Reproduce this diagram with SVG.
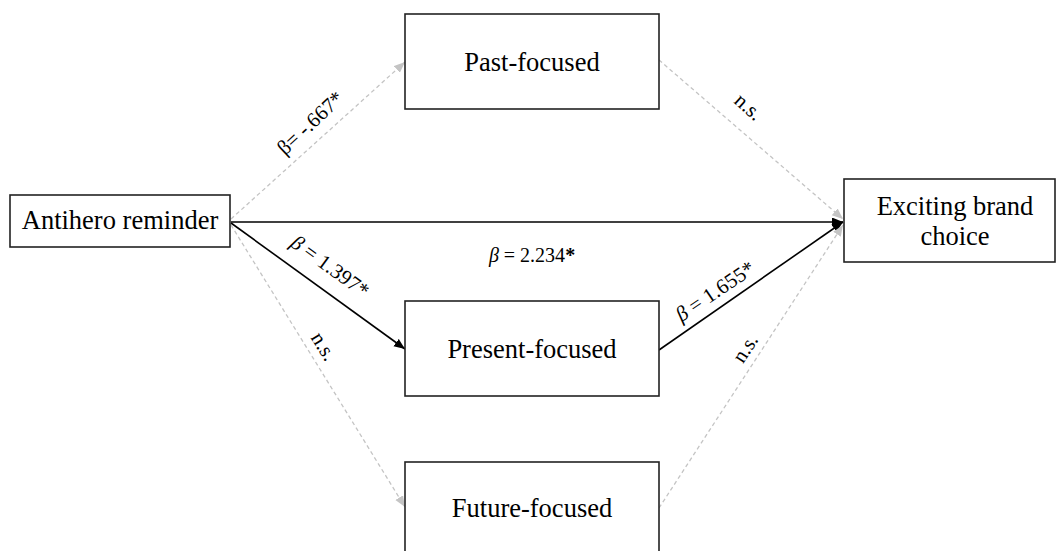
<svg xmlns="http://www.w3.org/2000/svg" width="1056" height="551" viewBox="0 0 1056 551">
<style>
.box{fill:#fff;stroke:#222;stroke-width:1.6}
.lbl{font-family:"Liberation Serif","Times New Roman",serif;font-size:26.5px;fill:#000;text-anchor:middle}
.coef{font-family:"Liberation Serif","Times New Roman",serif;font-size:20px;fill:#000;text-anchor:middle}
.rot{font-size:21px}
.solid{stroke:#000;stroke-width:1.6;fill:none}
.dash{stroke:#c4c4c4;stroke-width:1.3;stroke-dasharray:4 3;fill:none}
</style>
<defs>
<marker id="ab" markerUnits="userSpaceOnUse" markerWidth="12" markerHeight="10" refX="11" refY="4.5" orient="auto">
<path d="M0,0 L11,4.5 L0,9 z" fill="#000"/>
</marker>
<marker id="ag" markerUnits="userSpaceOnUse" markerWidth="12" markerHeight="10" refX="11" refY="4.5" orient="auto">
<path d="M0,0 L11,4.5 L0,9 z" fill="#c4c4c4"/>
</marker>
</defs>
<rect width="1056" height="551" fill="#fff"/>
<g id="connectors">
<line class="dash" x1="231" y1="219" x2="405" y2="62" marker-end="url(#ag)"/>
<line class="solid" x1="231" y1="222" x2="843" y2="222" marker-end="url(#ab)"/>
<line class="solid" x1="231" y1="223" x2="405" y2="349" marker-end="url(#ab)"/>
<line class="dash" x1="231" y1="225" x2="405" y2="507" marker-end="url(#ag)"/>
<line class="dash" x1="659" y1="60" x2="843" y2="219" marker-end="url(#ag)"/>
<line class="solid" x1="659" y1="350" x2="843" y2="222" marker-end="url(#ab)"/>
<line class="dash" x1="659" y1="508" x2="843" y2="225" marker-end="url(#ag)"/>
<text class="coef rot" transform="translate(315,128) rotate(-43)">β= -.667*</text>
<text class="coef" x="532" y="262"><tspan font-style="italic">β</tspan> = 2.234<tspan font-weight="bold">*</tspan></text>
<text class="coef rot" transform="translate(326,272) rotate(36)"><tspan font-style="italic">β</tspan> = 1.397*</text>
<text class="coef rot" transform="translate(318,350) rotate(58)">n.s.</text>
<text class="coef rot" transform="translate(744,112) rotate(41.6)">n.s.</text>
<text class="coef rot" transform="translate(719,297) rotate(-34)"><tspan font-style="italic">β</tspan> = 1.655*</text>
<text class="coef rot" transform="translate(751,352) rotate(-57)">n.s.</text>
</g>
<g id="antihero">
<rect class="box" x="10" y="195" width="220" height="52"/>
<text class="lbl" x="120" y="229">Antihero reminder</text>
</g>
<g id="past">
<rect class="box" x="405" y="14" width="254" height="95"/>
<text class="lbl" x="532" y="71">Past-focused</text>
</g>
<g id="present">
<rect class="box" x="405" y="301" width="254" height="95"/>
<text class="lbl" x="532" y="358">Present-focused</text>
</g>
<g id="future">
<rect class="box" x="405" y="462" width="254" height="95"/>
<text class="lbl" x="532" y="517">Future-focused</text>
</g>
<g id="exciting">
<rect class="box" x="844" y="179" width="211" height="83"/>
<text class="lbl" x="955" y="215">Exciting brand</text>
<text class="lbl" x="955" y="245">choice</text>
</g>
</svg>
